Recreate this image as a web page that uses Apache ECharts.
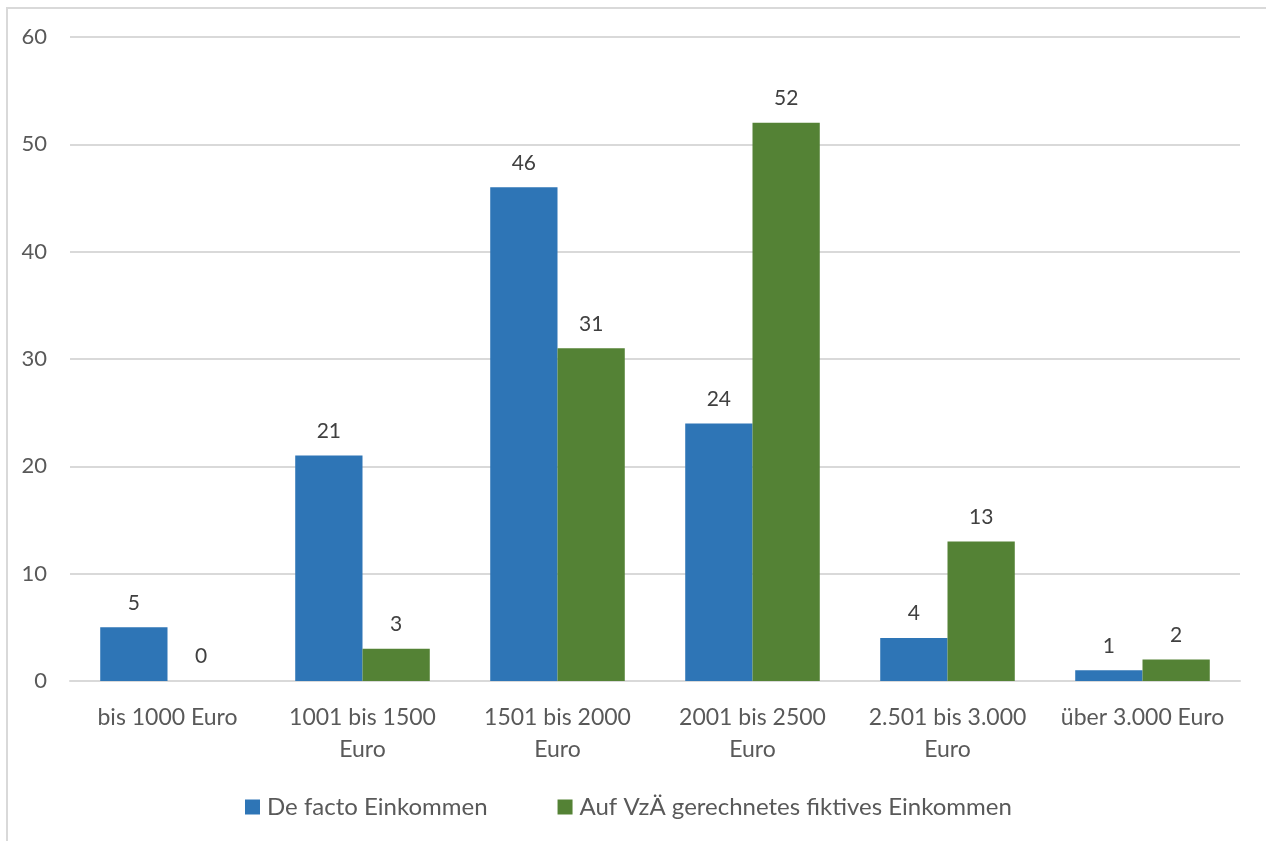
<!DOCTYPE html>
<html>
<head>
<meta charset="utf-8">
<script src="https://cdn.jsdelivr.net/npm/echarts@6/dist/echarts.min.js"></script>
<style>
  html, body { margin: 0; padding: 0; background: #fff; }
  #frame { position: absolute; left: 6px; top: 7px; width: 1270px; height: 850px; border-left: 2px solid #d9d9d9; border-top: 2px solid #d9d9d9; box-sizing: border-box; }
  #chart { position: absolute; left: 0; top: 0; width: 1266px; height: 841px; }
</style>
</head>
<body>
<div id="frame"></div>
<div id="chart"></div>
<script>
const categories = ['bis 1000 Euro', '1001 bis 1500\nEuro', '1501 bis 2000\nEuro', '2001 bis 2500\nEuro', '2.501 bis 3.000\nEuro', 'über 3.000 Euro'];
const deFacto = [5, 21, 46, 24, 4, 1];
const fiktiv = [0, 3, 31, 52, 13, 2];
const seriesNames = ['De facto Einkommen', 'Auf VzÄ gerechnetes fiktives Einkommen'];
const yTicks = { min: 0, max: 60, interval: 10 };

const FONT = 'Lato';
const TEXT = '#595959';

const chart = echarts.init(document.getElementById('chart'), null, { renderer: 'canvas' });

const labelStyle = {
  show: true,
  position: 'top',
  distance: 14,
  color: '#404040',
  fontFamily: FONT,
  fontSize: 21
};

chart.setOption({
  animation: false,
  textStyle: { fontFamily: FONT },
  grid: { left: 70, right: 26, top: 37, bottom: 160, containLabel: false },
  legend: {
    top: 790,
    left: 240,
    itemWidth: 15,
    itemHeight: 15,
    itemGap: 70,
    icon: 'rect',
    textStyle: { color: TEXT, fontFamily: FONT, fontSize: 24, padding: [0, 0, 0, 2] },
    data: seriesNames
  },
  xAxis: {
    type: 'category',
    data: categories,
    axisLine: { show: true, lineStyle: { color: '#d9d9d9', width: 2 } },
    axisTick: { show: false },
    axisLabel: { color: TEXT, fontFamily: FONT, fontSize: 23, lineHeight: 32, margin: 21, interval: 0 }
  },
  yAxis: {
    type: 'value',
    min: yTicks.min,
    max: yTicks.max,
    interval: yTicks.interval,
    axisLine: { show: false },
    axisTick: { show: false },
    axisLabel: { color: TEXT, fontFamily: FONT, fontSize: 22, margin: 23 },
    splitLine: { lineStyle: { color: '#d9d9d9', width: 2 } }
  },
  series: [
    {
      name: seriesNames[0],
      type: 'bar',
      data: deFacto,
      barGap: '0%',
      barCategoryGap: '31%',
      itemStyle: { color: '#2E75B6' },
      label: labelStyle
    },
    {
      name: seriesNames[1],
      type: 'bar',
      data: fiktiv,
      barGap: '0%',
      barCategoryGap: '31%',
      itemStyle: { color: '#548235' },
      label: labelStyle
    }
  ]
});
</script>
</body>
</html>
